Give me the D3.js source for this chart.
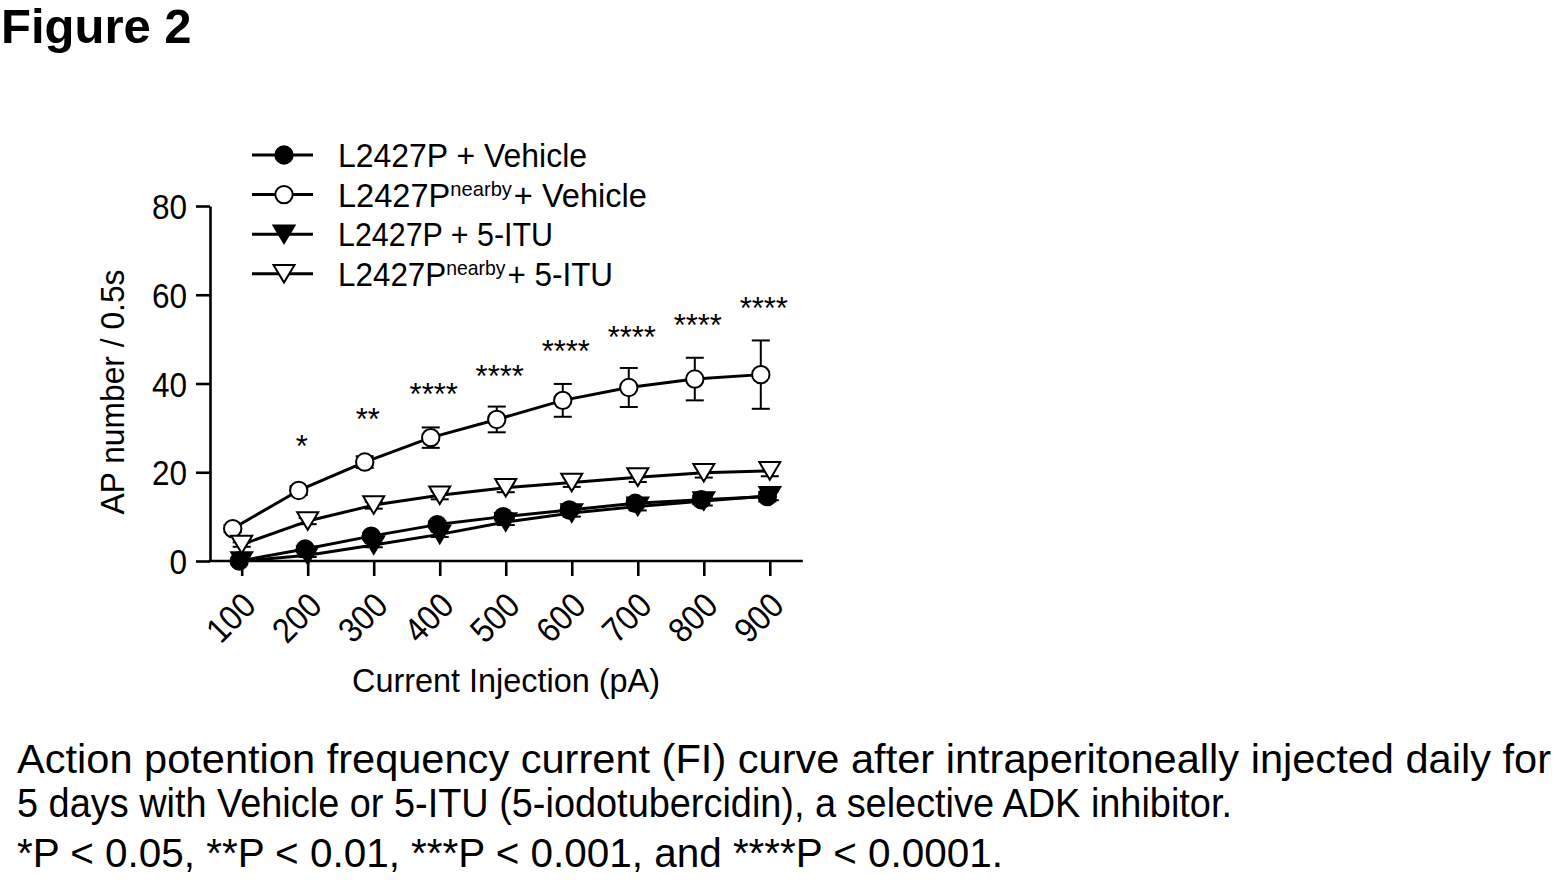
<!DOCTYPE html>
<html>
<head>
<meta charset="utf-8">
<script src="https://cdn.jsdelivr.net/npm/d3@7/dist/d3.min.js"></script>
<style>
  html, body { margin: 0; padding: 0; background: #fff; }
  svg { display: block; }
  text { font-family: "Liberation Sans", Arial, Helvetica, sans-serif; fill: #000; }
</style>
</head>
<body>
<svg id="chart" width="1565" height="886"></svg>
<script>
// ---------------- data ----------------
const currents = [100, 200, 300, 400, 500, 600, 700, 800, 900];
const yTicks = [0, 20, 40, 60, 80];

const seriesNames = ["L2427P + Vehicle", "L2427P|nearby|+ Vehicle", "L2427P + 5-ITU", "L2427P|nearby|+ 5-ITU"];

const vehicleMean       = [0.0, 2.7, 5.6, 8.2, 10.0, 11.5, 13.0, 13.8, 14.5];
const vehicleSem        = [0.3, 0.5, 0.6, 0.7, 0.8, 0.9, 1.0, 1.0, 1.1];
const nearbyVehicleMean = [7.3, 15.9, 22.3, 27.8, 31.9, 36.2, 39.1, 41.0, 42.0];
const nearbyVehicleSem  = [0.8, 1.0, 1.3, 2.3, 2.9, 3.7, 4.4, 4.8, 7.7];
const ituMean           = [0.0, 1.3, 3.6, 6.0, 8.8, 10.8, 12.3, 13.5, 14.7];
const ituSem            = [0.2, 0.4, 0.5, 0.6, 0.7, 0.8, 0.9, 1.0, 1.0];
const nearbyItuMean     = [3.7, 9.0, 12.6, 14.8, 16.5, 17.7, 18.9, 19.9, 20.3];
const nearbyItuSem      = [0.5, 0.7, 0.8, 0.9, 1.0, 1.0, 1.1, 1.1, 1.2];

const sigLabels = ["", "*", "**", "****", "****", "****", "****", "****", "****"];
const sigHeight = [0, 27.3, 33.4, 39.2, 43.1, 48.7, 51.9, 54.6, 58.4];

const figureTitle = "Figure 2";
const xAxisTitle = "Current Injection (pA)";
const yAxisTitle = "AP number / 0.5s";
const captionLines = [
  "Action potention frequency current (FI) curve after intraperitoneally injected daily for",
  "5 days with Vehicle or 5-ITU (5-iodotubercidin), a selective ADK inhibitor.",
  "*P < 0.05, **P < 0.01, ***P < 0.001, and ****P < 0.0001."
];

// ---------------- styling ----------------
const series = [
  { name: seriesNames[0], mean: vehicleMean, sem: vehicleSem, shape: "circle", fill: "#000", dx: -2.5 },
  { name: seriesNames[1], mean: nearbyVehicleMean, sem: nearbyVehicleSem, shape: "circle", fill: "#fff", dx: -9 },
  { name: seriesNames[2], mean: ituMean, sem: ituSem, shape: "triangle", fill: "#000", dx: 0 },
  { name: seriesNames[3], mean: nearbyItuMean, sem: nearbyItuSem, shape: "triangle", fill: "#fff", dx: 0 }
];
const legendWidths = [249, 309, 215, 275];
const captionWidths = [1534, 1215, 986];
const narrow = 0.9;

const svg = d3.select("#chart");

const x = d3.scaleLinear().domain([100, 900]).range([241.7, 769.8]);
const y = d3.scaleLinear().domain([0, 80]).range([561, 206]);
const axisX0 = 210;

function fitWidth(sel, w) {
  sel.each(function () {
    const target = typeof w === "function" ? w(this) : w;
    d3.select(this).attr("textLength", target).attr("lengthAdjust", "spacingAndGlyphs");
  });
}
function condense(sel, f) {
  fitWidth(sel, node => node.getComputedTextLength() * f);
}

function markerPath(shape) {
  if (shape === "circle") {
    const r = 8.7;
    return `M${-r},0A${r},${r} 0 1,0 ${r},0A${r},${r} 0 1,0 ${-r},0Z`;
  }
  const w = 10.5, h = 8.8;
  return `M${-w},${-h}L${w},${-h}L0,${h}Z`;
}

// title
svg.append("text").attr("x", 1).attr("y", 43)
  .style("font-size", "49px").style("font-weight", "bold").text(figureTitle);

// ---------------- axes ----------------
const gy = svg.append("g").attr("transform", `translate(${axisX0},0)`)
  .call(d3.axisLeft(y).tickValues(yTicks).tickSize(14).tickSizeOuter(0).tickPadding(9));
gy.select(".domain").attr("stroke-width", 2.6);
gy.selectAll(".tick line").attr("stroke-width", 2.6);
gy.selectAll(".tick text").style("font-size", "35px").attr("font-family", null).attr("fill", "#000")
  .attr("dy", "0.36em");
condense(gy.selectAll(".tick text"), narrow);

const gx = svg.append("g").attr("transform", `translate(0,${y(0)})`)
  .call(d3.axisBottom(x).tickValues(currents).tickSize(15).tickSizeOuter(0).tickFormat(d3.format("d")));
gx.select(".domain").remove();
gx.append("line").attr("x1", axisX0 - 1.3).attr("x2", x(950)).attr("y1", 0).attr("y2", 0)
  .attr("stroke", "#000").attr("stroke-width", 2.6);
gx.selectAll(".tick line").attr("stroke-width", 2.6);
gx.selectAll(".tick text")
  .style("font-size", "35px").attr("font-family", null).attr("fill", "#000")
  .attr("text-anchor", "end").attr("y", 0).attr("dy", "0.35em")
  .attr("transform", "translate(7,38) rotate(-45)");
condense(gx.selectAll(".tick text"), narrow);

const xt = svg.append("text").attr("x", 506).attr("y", 692).attr("text-anchor", "middle")
  .style("font-size", "34px").text(xAxisTitle);
fitWidth(xt, 308);

const yt = svg.append("text").attr("transform", "translate(112,392) rotate(-90)")
  .attr("text-anchor", "middle").attr("dy", "0.35em")
  .style("font-size", "34px").text(yAxisTitle);
fitWidth(yt, 245);

// ---------------- data marks ----------------
const plot = svg.append("g");
const line = d3.line();

series.forEach(s => {
  const pts = currents.map((c, i) => [x(c) + s.dx, y(s.mean[i])]);
  plot.append("path").attr("d", line(pts)).attr("fill", "none")
    .attr("stroke", "#000").attr("stroke-width", 3).attr("stroke-linejoin", "round");
});

series.forEach(s => {
  const g = plot.append("g");
  currents.forEach((c, i) => {
    const cx = x(c) + s.dx;
    const hi = y(s.mean[i] + s.sem[i]), lo = y(Math.max(0, s.mean[i] - s.sem[i]));
    g.append("line").attr("x1", cx).attr("x2", cx).attr("y1", hi).attr("y2", lo)
      .attr("stroke", "#000").attr("stroke-width", 2);
    [hi, lo].forEach(v => g.append("line").attr("x1", cx - 9).attr("x2", cx + 9)
      .attr("y1", v).attr("y2", v).attr("stroke", "#000").attr("stroke-width", 2));
  });
});

series.forEach(s => {
  plot.append("g").selectAll("path").data(currents).join("path")
    .attr("d", markerPath(s.shape))
    .attr("transform", (c, i) => `translate(${x(c) + s.dx},${y(s.mean[i])})`)
    .attr("fill", s.fill).attr("stroke", "#000").attr("stroke-width", 2);
});

// significance stars
svg.append("g").selectAll("text").data(currents).join("text")
  .attr("x", c => x(c) - 6)
  .attr("y", (c, i) => y(sigHeight[i]) + 17.5)
  .attr("text-anchor", "middle").style("font-size", "31px")
  .text((c, i) => sigLabels[i]);

// ---------------- legend ----------------
const legend = svg.append("g");
series.forEach((s, i) => {
  const ly = 155 + i * 39.6;
  legend.append("line").attr("x1", 252).attr("x2", 313).attr("y1", ly).attr("y2", ly)
    .attr("stroke", "#000").attr("stroke-width", 3);
  legend.append("path").attr("d", markerPath(s.shape))
    .attr("transform", `translate(284,${ly})`)
    .attr("fill", s.fill).attr("stroke", "#000").attr("stroke-width", 2);
  const parts = s.name.split("|");
  const t = legend.append("text").attr("x", 338).attr("y", ly).attr("dy", "0.36em")
    .style("font-size", "34px");
  t.append("tspan").text(parts[0]);
  if (parts.length > 1) {
    t.append("tspan").attr("dy", -11).style("font-size", "21px").text(parts[1]);
    t.append("tspan").attr("dy", 11).attr("dx", 2).text(parts[2]);
  }
  fitWidth(t, legendWidths[i]);
});

// ---------------- caption ----------------
const capBase = [773, 817, 867];
const cap = svg.append("g");
captionLines.forEach((txt, i) => {
  const t = cap.append("text").attr("x", 17).attr("y", capBase[i]).style("font-size", "40px").text(txt);
  fitWidth(t, captionWidths[i]);
});
</script>
</body>
</html>
